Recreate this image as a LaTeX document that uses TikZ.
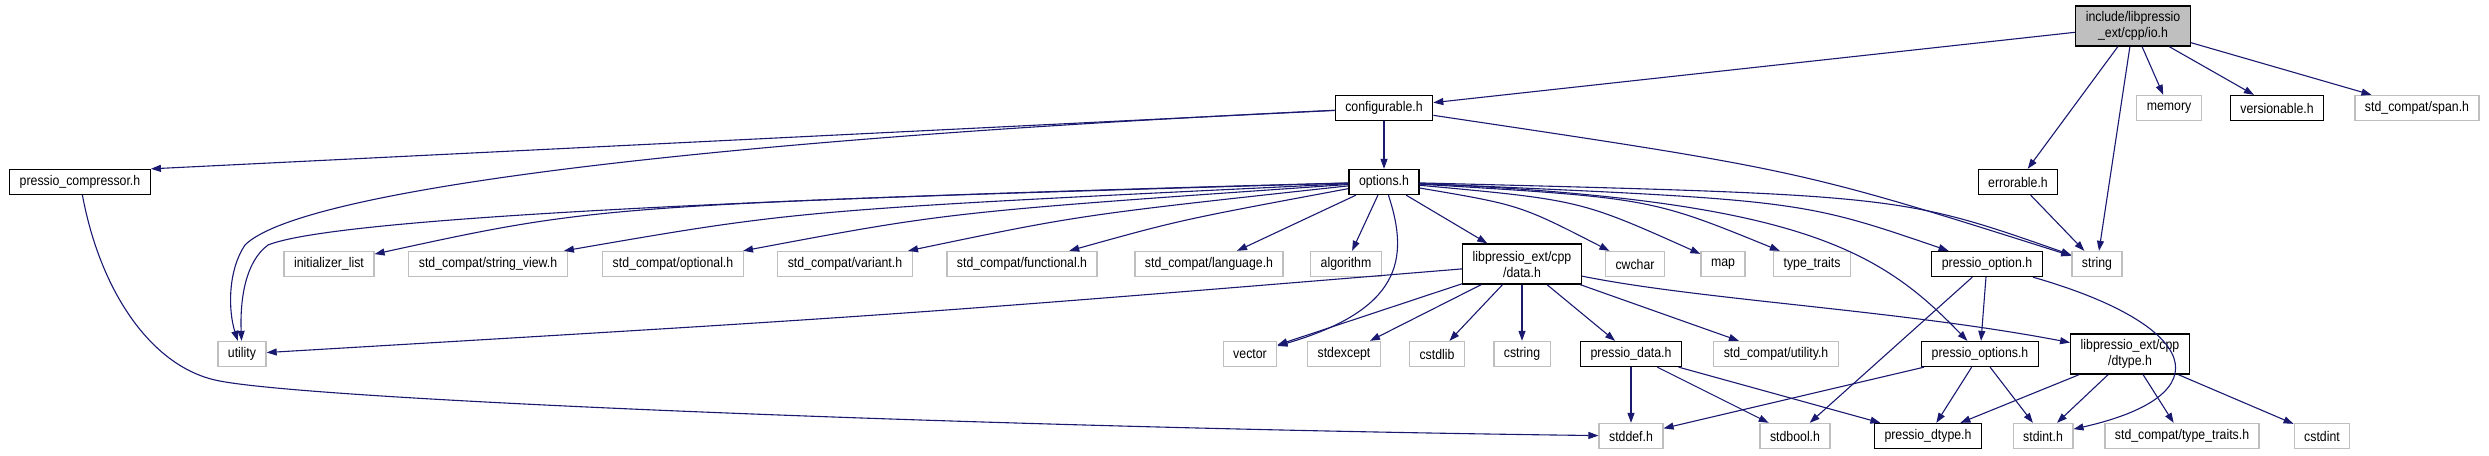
\documentclass[tikz,border=0pt]{standalone}
\usepackage{fontspec}
\setmainfont{Liberation Sans}[FakeStretch=0.88]
\usetikzlibrary{arrows.meta}
\definecolor{edgeblue}{HTML}{191970}
\definecolor{extgray}{HTML}{BFBFBF}
\tikzset{
  filebox/.style={draw=black, line width=1.3pt, fill=white, minimum height=25pt,
                  inner xsep=10pt, inner ysep=2pt, align=center},
  extbox/.style={filebox, draw=extgray},
  mainbox/.style={filebox, fill=extgray},
  twoline/.style={minimum height=40pt},
  dep/.style={->, draw=edgeblue, fill=none, line width=1.1pt},
  >={Triangle[length=10pt,width=7pt]},
}
\begin{document}
\begin{tikzpicture}[x=1pt,y=-1pt,font=\fontsize{14}{16}\selectfont]
  \useasboundingbox (0,0) rectangle (2489,455);
  \node[mainbox, twoline] (io) at (2133,26) {include/libpressio\\\_ext/cpp/io.h};

  \node[filebox] (configurable) at (1384,108) {configurable.h};
  \node[extbox] (memory) at (2169,108) {memory};
  \node[filebox] (versionable) at (2277,108) {versionable.h};
  \node[extbox] (span) at (2417,108) {std\_compat/span.h};

  \node[filebox] (compressor) at (80,182) {pressio\_compressor.h};
  \node[filebox] (options) at (1384,182) {options.h};
  \node[filebox] (errorable) at (2018,182) {errorable.h};

  \node[extbox] (initlist) at (329,264) {initializer\_list};
  \node[extbox] (strview) at (488,264) {std\_compat/string\_view.h};
  \node[extbox] (optional) at (673,264) {std\_compat/optional.h};
  \node[extbox] (variant) at (845,264) {std\_compat/variant.h};
  \node[extbox] (functional) at (1022,264) {std\_compat/functional.h};
  \node[extbox] (language) at (1209,264) {std\_compat/language.h};
  \node[extbox] (algorithm) at (1346,264) {algorithm};
  \node[filebox, twoline] (data) at (1522,264) {libpressio\_ext/cpp\\/data.h};
  \node[extbox] (cwchar) at (1635,264) {cwchar};
  \node[extbox] (map) at (1723,264) {map};
  \node[extbox] (typetraits) at (1812,264) {type\_traits};
  \node[filebox] (poption) at (1987,264) {pressio\_option.h};
  \node[extbox] (string) at (2097,264) {string};

  \node[extbox] (utility) at (242,354) {utility};
  \node[extbox] (vector) at (1250,354) {vector};
  \node[extbox] (stdexcept) at (1344,354) {stdexcept};
  \node[extbox] (cstdlib) at (1437,354) {cstdlib};
  \node[extbox] (cstring) at (1522,354) {cstring};
  \node[filebox] (pdata) at (1631,354) {pressio\_data.h};
  \node[extbox] (cutility) at (1776,354) {std\_compat/utility.h};
  \node[filebox] (poptions) at (1980,354) {pressio\_options.h};
  \node[filebox, twoline] (dtype) at (2130,354) {libpressio\_ext/cpp\\/dtype.h};

  \node[extbox] (stddef) at (1631,436) {stddef.h};
  \node[extbox] (stdbool) at (1795,436) {stdbool.h};
  \node[filebox] (pdtype) at (1928,436) {pressio\_dtype.h};
  \node[extbox] (stdint) at (2043,436) {stdint.h};
  \node[extbox] (ctypetraits) at (2182,436) {std\_compat/type\_traits.h};
  \node[extbox] (cstdint) at (2322,436) {cstdint};

  % io.h
  \draw[dep] (io) -- (configurable);
  \draw[dep] (io) -- (errorable);
  \draw[dep] (io) -- (string);
  \draw[dep] (io) -- (memory);
  \draw[dep] (io) -- (versionable);
  \draw[dep] (io) -- (span);
  % configurable.h
  \draw[dep] (configurable) -- (compressor.north east);
  \draw[dep] (configurable) -- (options);
  \draw[dep] (configurable) .. controls (1800,170) .. (string);
  \draw[dep] (configurable) .. controls (700,140) and (300,190) .. (245,245)
    .. controls (228,270) and (228,310) .. (utility);
  \draw[dep] (compressor) .. controls (100,290) and (150,365) .. (215,380)
    .. controls (300,400) and (1000,428) .. (stddef);
  % options.h
  \draw[dep] (options) .. controls (700,200) and (330,220) .. (268,245)
    .. controls (245,262) and (240,300) .. (utility);
  \draw[dep] (options) .. controls (600,205) .. (initlist);
  \draw[dep] (options) .. controls (800,210) .. (strview);
  \draw[dep] (options) .. controls (950,212) .. (optional);
  \draw[dep] (options) .. controls (1080,215) .. (variant);
  \draw[dep] (options) .. controls (1180,220) .. (functional);
  \draw[dep] (options) -- (language);
  \draw[dep] (options) -- (algorithm);
  \draw[dep] (options) .. controls (1410,260) and (1400,310) .. (vector);
  \draw[dep] (options) -- (data);
  \draw[dep] (options) .. controls (1520,205) .. (cwchar);
  \draw[dep] (options) .. controls (1580,200) .. (map);
  \draw[dep] (options) .. controls (1650,198) .. (typetraits);
  \draw[dep] (options) .. controls (1800,200) .. (poption);
  \draw[dep] (options) .. controls (1900,195) .. (string);
  \draw[dep] (options) .. controls (1800,200) and (1880,250) .. (poptions);
  % data.h
  \draw[dep] (data) .. controls (900,315) .. (utility);
  \draw[dep] (data) -- (vector);
  \draw[dep] (data) -- (stdexcept);
  \draw[dep] (data) -- (cstdlib);
  \draw[dep] (data) -- (cstring);
  \draw[dep] (data) -- (pdata);
  \draw[dep] (data) -- (cutility);
  \draw[dep] (data) .. controls (1700,300) and (1900,310) .. (dtype);
  \draw[dep] (pdata) -- (stddef);
  \draw[dep] (pdata) -- (stdbool);
  \draw[dep] (pdata) -- (pdtype);
  % pressio_option.h
  \draw[dep] (poption) -- (poptions);
  \draw[dep] (poption) -- (stdbool);
  \draw[dep] (poption) .. controls (2200,325) and (2225,395) .. (stdint);
  \draw[dep] (poptions) -- (stddef);
  \draw[dep] (poptions) -- (pdtype);
  \draw[dep] (poptions) -- (stdint);
  % dtype.h
  \draw[dep] (dtype) -- (pdtype);
  \draw[dep] (dtype) -- (stdint);
  \draw[dep] (dtype) -- (ctypetraits);
  \draw[dep] (dtype) -- (cstdint);
  \draw[dep] (errorable) -- (string);
\end{tikzpicture}
\end{document}
